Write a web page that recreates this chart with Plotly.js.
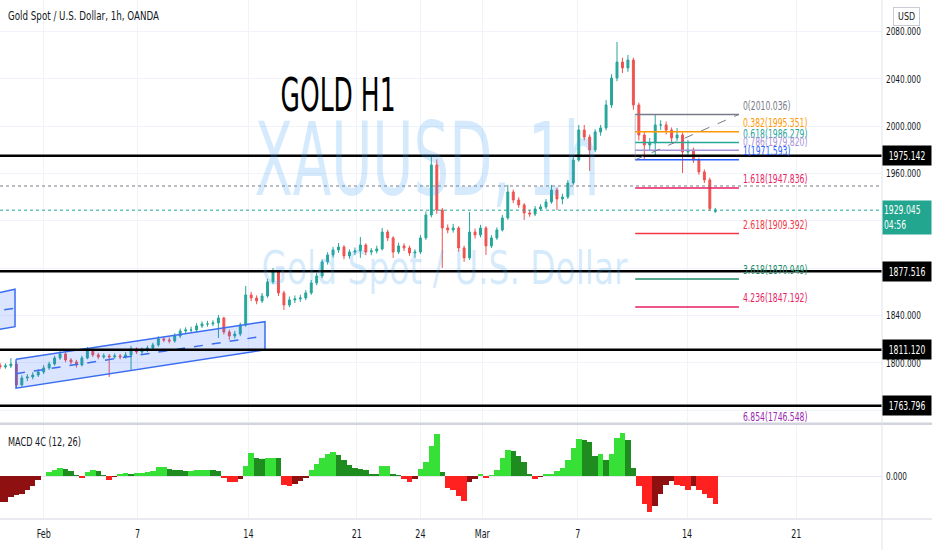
<!DOCTYPE html>
<html>
<head>
<meta charset="utf-8">
<script src="https://cdn.plot.ly/plotly-3.0.1.min.js"></script>
<style>
html,body{margin:0;padding:0;background:#fff;}
#chart{width:932px;height:550px;}
</style>
</head>
<body>
<div id="chart"></div>
<script>
// ---------- DATA ----------
const HOURS_PER_CANDLE = 6;
const openP = [1798.0,1796.5,1797.4,1799.0,1781.3,1787.2,1788.0,1789.7,1792.3,1795.7,
1799.0,1804.1,1807.5,1802.4,1800.7,1798.2,1804.1,1810.9,1806.7,1805.0,
1805.8,1805.0,1805.8,1805.0,1806.7,1811.7,1809.2,1810.9,1812.6,1815.1,
1820.2,1819.3,1818.5,1822.7,1826.9,1827.8,1827.8,1831.2,1832.9,1832.9,
1833.7,1837.9,1826.1,1822.7,1824.4,1832.0,1857.4,1854.8,1852.3,1856.5,
1868.4,1876.8,1859.1,1848.9,1853.2,1854.0,1854.8,1859.1,1867.5,1873.4,
1885.3,1891.2,1895.4,1897.9,1890.4,1893.7,1894.6,1899.6,1893.7,1894.6,
1896.3,1910.6,1905.6,1893.7,1898.8,1897.1,1892.9,1893.7,1905.6,1925.0,
1967.3,1929.2,1914.0,1912.3,1914.0,1897.1,1888.7,1910.6,1908.1,1914.0,
1898.8,1905.6,1912.3,1922.5,1944.4,1937.7,1933.5,1926.7,1925.8,1930.1,
1931.8,1936.0,1946.1,1938.5,1940.2,1952.0,1971.5,1996.8,1990.9,1980.0,
1995.2,1998.6,2018.0,2040.8,2054.3,2049.3,2056.0,2018.0,1992.6,1984.2,
1985.9,2001.1,2001.1,1996.8,1990.1,1992.6,1978.2,1980.0,1971.5,1961.4,
1954.6,1928.0];
const highP = [1800.0,1799.5,1804.0,1800.5,1789.5,1790.5,1792.0,1794.5,1798.0,1801.0,
1806.0,1810.0,1809.0,1804.0,1802.5,1806.0,1813.4,1812.0,1808.5,1808.0,
1807.5,1808.0,1807.5,1809.0,1814.3,1813.0,1813.0,1814.5,1817.0,1822.5,
1822.0,1821.5,1825.0,1829.0,1830.0,1830.5,1833.5,1835.0,1835.5,1836.0,
1840.5,1839.0,1828.0,1827.0,1834.0,1865.0,1860.0,1857.0,1859.0,1871.0,
1880.2,1878.5,1861.0,1856.0,1857.0,1857.5,1861.5,1870.0,1876.0,1887.5,
1893.5,1898.0,1901.3,1899.5,1896.0,1897.5,1906.4,1901.0,1897.0,1899.0,
1914.0,1912.5,1907.0,1901.5,1901.0,1899.0,1896.0,1908.0,1928.0,1975.5,
1972.0,1931.0,1917.0,1917.5,1915.5,1899.0,1927.5,1913.5,1916.6,1915.5,
1908.0,1914.5,1925.0,1950.4,1946.5,1940.0,1935.0,1929.0,1932.5,1934.0,
1938.5,1950.4,1948.0,1943.0,1954.5,1974.0,2001.1,2001.1,1993.0,1997.5,
2001.1,2022.2,2044.0,2071.3,2058.0,2060.3,2058.0,2020.0,1995.0,1990.0,
2010.0,2005.0,2004.0,1999.0,1998.5,1994.5,1988.4,1982.0,1973.5,1963.5,
1956.5,1931.0];
const lowP = [1794.5,1795.0,1795.5,1778.8,1780.0,1784.5,1786.0,1788.0,1790.5,1794.0,
1797.5,1802.5,1800.5,1798.5,1796.0,1797.0,1803.0,1805.0,1803.0,1803.5,
1788.0,1803.5,1803.0,1803.5,1794.0,1807.5,1807.5,1809.0,1811.0,1813.5,
1817.5,1816.5,1817.0,1821.0,1825.0,1825.5,1826.0,1829.5,1830.5,1831.0,
1821.0,1824.0,1819.5,1820.5,1822.5,1830.5,1852.0,1849.5,1850.5,1855.0,
1866.5,1856.5,1844.7,1847.0,1850.5,1851.5,1853.0,1857.5,1865.5,1871.5,
1883.0,1889.0,1893.0,1887.5,1888.0,1891.0,1888.7,1891.0,1891.0,1892.5,
1895.0,1903.0,1888.7,1892.0,1894.5,1890.5,1888.7,1892.0,1904.0,1923.0,
1926.0,1880.2,1909.5,1910.0,1894.0,1885.3,1887.0,1905.0,1906.0,1891.2,
1897.0,1904.0,1911.0,1921.0,1935.0,1931.0,1920.8,1923.5,1924.0,1928.5,
1930.0,1934.5,1929.2,1934.0,1938.5,1950.5,1970.0,1988.0,1962.2,1978.0,
1992.0,1996.5,2015.5,2038.0,2045.0,2046.0,2014.0,1988.0,1971.6,1979.0,
1975.7,1997.0,1993.0,1986.5,1987.5,1960.5,1975.0,1969.0,1959.0,1952.0,
1928.5,1926.7];
const closeP = [1796.5,1797.4,1799.0,1781.3,1787.2,1788.0,1789.7,1792.3,1795.7,1799.0,
1804.1,1807.5,1802.4,1800.7,1798.2,1804.1,1810.9,1806.7,1805.0,1805.8,
1805.0,1805.8,1805.0,1806.7,1811.7,1809.2,1810.9,1812.6,1815.1,1820.2,
1819.3,1818.5,1822.7,1826.9,1827.8,1827.8,1831.2,1832.9,1832.9,1833.7,
1837.9,1826.1,1822.7,1824.4,1832.0,1857.4,1854.8,1852.3,1856.5,1868.4,
1876.8,1859.1,1848.9,1853.2,1854.0,1854.8,1859.1,1867.5,1873.4,1885.3,
1891.2,1895.4,1897.9,1890.4,1893.7,1894.6,1899.6,1893.7,1894.6,1896.3,
1910.6,1905.6,1893.7,1898.8,1897.1,1892.9,1893.7,1905.6,1925.0,1967.3,
1929.2,1914.0,1912.3,1914.0,1897.1,1888.7,1910.6,1908.1,1914.0,1898.8,
1905.6,1912.3,1922.5,1944.4,1937.7,1933.5,1926.7,1925.8,1930.1,1931.8,
1936.0,1946.1,1938.5,1940.2,1952.0,1971.5,1996.8,1990.9,1980.0,1995.2,
1998.6,2018.0,2040.8,2054.3,2049.3,2056.0,2018.0,1992.6,1984.2,1985.9,
2001.1,2001.1,1996.8,1990.1,1992.6,1978.2,1980.0,1971.5,1961.4,1954.6,
1930.5,1929.05];
const macdHist = [-6.4,-6.4,-5.3,-4.75,-4.5,-3.5,-2.4,-1.0,0.1,1.0,
1.5,2.0,1.8,1.2,0.3,-0.5,1.0,1.5,1.2,0.2,
-0.9,-0.3,0.4,0.7,0.6,0.7,0.8,1.0,1.2,2.2,
2.3,1.8,1.5,1.4,1.2,1.3,1.5,1.5,1.6,1.4,
1.2,-0.5,-1.4,-1.6,-0.8,2.5,5.7,4.6,4.2,4.4,
4.6,4.5,-2.2,-2.4,-2.0,-1.3,-0.4,1.5,3.0,4.5,
5.6,5.9,5.3,4.0,2.8,2.0,1.8,1.6,0.6,0.4,
2.5,2.6,0.6,0.3,-0.8,-1.4,-0.7,1.8,3.5,7.5,
10.5,1.0,-3.1,-3.5,-5.0,-6.2,-1.5,-0.7,0.5,-0.4,
0.3,1.5,4.5,6.5,6.3,5.0,3.5,0.5,-0.8,-0.3,
0.4,0.6,1.2,1.9,4.0,7.0,9.3,9.0,8.5,5.0,
5.5,4.0,5.4,9.5,10.8,9.0,2.0,-2.5,-7.0,-8.9,
-7.5,-4.5,-2.2,-1.2,-2.3,-2.6,-3.5,-2.6,-3.6,-4.6,
-5.5,-7.0];

const tickHours = [48, 151, 273, 392, 462, 530, 635, 755, 875];
const tickLabels = ['Feb','7','14','21','24','Mar','7','14','21'];
const priceTicks = [1760,1800,1840,1880,1920,1960,2000,2040,2080];

const levelLines = [1975.142, 1877.516, 1811.120, 1763.796];
const lastPrice = 1929.045;
const countdown = '04:56';
const prevCloseLine = 1949.5;

const fibRatios = ['0','0.382','0.618','0.786','1','1.618','2.618','3.618','4.236','6.854'];
const fibPrices = [2010.036,1995.351,1986.279,1979.820,1971.593,1947.836,1909.392,1870.949,1847.192,1746.548];
const fibColors = ['#787b86','#ff9800','#26a69a','#a792d8','#2962ff','#e91e63','#f23645','#1e8c6a','#e91e63','#9c27b0'];
const fibHours = [698, 812];

const channelHours = [17.6, 291.2];
const channelTop = [1803.0, 1834.8];
const channelBottom = [1778.5, 1810.9];
const channelMid = [1790.8, 1822.7];
const channel2Hours = [-15, 16.5];
const channel2Top = [1857.0, 1862.2];
const channel2Bottom = [1826.5, 1830.6];
const channel2Mid = [1843.0, 1846.1];

// ---------- BUILD ----------
const FONT = "'DejaVu Sans Condensed', 'Liberation Sans Narrow', 'Arial Narrow', sans-serif";
const SQUEEZE = 0.74;
const xs = closeP.map((_, i) => i * HOURS_PER_CANDLE);

const mColors = macdHist.map((v, i) => {
  const p = i > 0 ? macdHist[i-1] : v;
  if (v >= 0) return v >= p ? '#36e036' : '#1f8c1f';
  return v < p ? '#ff2020' : '#8e1010';
});

function channelTrace(hx, top, bot) {
  return {
    type:'scatter', mode:'lines', xaxis:'x', yaxis:'y',
    x:[hx[0], hx[1], hx[1], hx[0], hx[0]],
    y:[top[0], top[1], bot[1], bot[0], top[0]],
    fill:'toself', fillcolor:'rgba(41,98,255,0.17)',
    line:{color:'#3a6df0', width:1.5}, hoverinfo:'skip'
  };
}
function midTrace(hx, mid) {
  return {type:'scatter', mode:'lines', xaxis:'x', yaxis:'y', x:hx, y:mid,
    line:{color:'#3a6df0', width:1.5, dash:'dash'}, hoverinfo:'skip'};
}

const traces = [
  channelTrace(channelHours, channelTop, channelBottom),
  midTrace(channelHours, channelMid),
  channelTrace(channel2Hours, channel2Top, channel2Bottom),
  midTrace(channel2Hours, channel2Mid),
  {
    type:'candlestick', xaxis:'x', yaxis:'y', x:xs,
    open:openP, high:highP, low:lowP, close:closeP,
    increasing:{line:{color:'#26a69a', width:1}, fillcolor:'#26a69a'},
    decreasing:{line:{color:'#ef5350', width:1}, fillcolor:'#ef5350'},
    whiskerwidth:0, hoverinfo:'skip'
  },
  {
    type:'bar', xaxis:'x', yaxis:'y2', x:xs, y:macdHist,
    width:HOURS_PER_CANDLE, marker:{color:mColors, line:{width:0}}, hoverinfo:'skip'
  }
];

const shapes = [];
levelLines.forEach(v => shapes.push({type:'line', xref:'paper', x0:0, x1:1, yref:'y', y0:v, y1:v,
  line:{color:'#000', width:2.5}, layer:'above'}));
shapes.push({type:'line', xref:'paper', x0:0, x1:1, yref:'y', y0:prevCloseLine, y1:prevCloseLine,
  line:{color:'#787b86', width:1, dash:'dot'}, layer:'above'});
shapes.push({type:'line', xref:'paper', x0:0, x1:1, yref:'y', y0:lastPrice, y1:lastPrice,
  line:{color:'#26a69a', width:1, dash:'dot'}, layer:'above'});
fibPrices.forEach((p, i) => shapes.push({type:'line', xref:'x', x0:fibHours[0], x1:fibHours[1], yref:'y', y0:p, y1:p,
  line:{color:fibColors[i], width:1.5}, layer:'above'}));
shapes.push({type:'line', xref:'x', x0:fibHours[0], x1:fibHours[0], yref:'y', y0:fibPrices[4], y1:fibPrices[0],
  line:{color:'rgba(120,123,134,0.45)', width:1}, layer:'above'});
shapes.push({type:'line', xref:'x', x0:fibHours[0], x1:fibHours[1], yref:'y', y0:fibPrices[4], y1:fibPrices[0],
  line:{color:'#787b86', width:1, dash:'dash'}, layer:'above'});
shapes.push({type:'line', xref:'paper', x0:0, x1:1.06, yref:'paper', y0:0.1835, y1:0.1835,
  line:{color:'#d1d4dc', width:2.5}, layer:'above'});
shapes.push({type:'line', xref:'paper', x0:0, x1:1.06, yref:'paper', y0:0, y1:0,
  line:{color:'#e0e3eb', width:1.5}, layer:'above'});
shapes.push({type:'line', xref:'paper', x0:1, x1:1, yref:'paper', y0:-0.07, y1:1,
  line:{color:'#e0e3eb', width:1}, layer:'above'});

const annotations = [];
const squeeze = {};
function addAnn(a, w) { if (w) squeeze[annotations.length] = w; annotations.push(a); }

addAnn({xref:'paper', yref:'paper', x:0.484, y:0.692, text:'XAUUSD, 1h', showarrow:false,
  font:{family:FONT, size:102, color:'rgba(66,160,240,0.22)'}, xanchor:'center', yanchor:'middle'}, 345);
addAnn({xref:'paper', yref:'paper', x:0.5045, y:0.4836, text:'Gold Spot / U.S. Dollar', showarrow:false,
  font:{family:FONT, size:46, color:'rgba(66,160,240,0.22)'}, xanchor:'center', yanchor:'middle'}, 366);
addAnn({xref:'paper', yref:'paper', x:0.0068, y:0.969, text:'Gold Spot / U.S. Dollar, 1h, OANDA', showarrow:false,
  font:{family:FONT, size:12, color:'#131722'}, xanchor:'left', yanchor:'middle', align:'left'}, 151);
addAnn({xref:'paper', yref:'paper', x:0.383, y:0.817, text:'GOLD H1', showarrow:false,
  font:{family:FONT, size:46, color:'#000'}, xanchor:'center', yanchor:'middle'}, 115);
addAnn({xref:'paper', yref:'paper', x:0.0068, y:0.148, text:'MACD 4C (12, 26)', showarrow:false,
  font:{family:FONT, size:12, color:'#131722'}, xanchor:'left', yanchor:'middle', align:'left'}, 73);
addAnn({xref:'paper', yref:'paper', x:1.0278, y:0.968, text:'USD', showarrow:false,
  font:{family:FONT, size:10, color:'#131722'}, bgcolor:'#fff', bordercolor:'#c8cbd3', borderwidth:1, borderpad:3,
  xanchor:'center', yanchor:'middle'}, 17);
fibPrices.forEach((p, i) => {
  const inRange = p >= 1750.0;
  addAnn({xref:'x', yref: inRange ? 'y' : 'y domain', x:fibHours[1], y: inRange ? p : 0.012,
    xanchor:'left', yanchor:'middle', xshift:2, yshift: inRange ? 8.5 : 0, showarrow:false, align:'left',
    text:fibRatios[i] + '(' + p.toFixed(3) + ')',
    font:{family:FONT, size:11.5, color:fibColors[i]}});
});
levelLines.forEach(v => addAnn({xref:'paper', yref:'y', x:1, y:v, xanchor:'left', yanchor:'middle',
  showarrow:false, text:v.toFixed(3), bgcolor:'#000', width:46, height:17, borderpad:1, align:'center',
  font:{family:FONT, size:11.5, color:'#fff'}}));
addAnn({xref:'paper', yref:'y', x:1, y:lastPrice, xanchor:'left', yanchor:'top', yshift:10,
  showarrow:false, text:lastPrice.toFixed(3) + '<br>' + countdown, bgcolor:'#22a68f', width:46, height:31,
  borderpad:1, align:'left', font:{family:FONT, size:11.5, color:'#fff'}});

const layout = {
  width:932, height:550, margin:{l:0, r:50, t:0, b:31},
  paper_bgcolor:'#fff', plot_bgcolor:'#fff', showlegend:false,
  font:{family:FONT, size:12, color:'#131722'},
  bargap:0, boxgap:0.5,
  xaxis:{domain:[0,1], anchor:'y2', range:[0, 969.2], tickmode:'array', tickvals:tickHours, ticktext:tickLabels,
    showgrid:true, gridcolor:'#f0f3fa', gridwidth:1, zeroline:false, showline:false, ticks:'',
    ticklabelstandoff:6,
    tickfont:{family:FONT, size:12, color:'#131722'}, rangeslider:{visible:false}, fixedrange:true},
  yaxis:{domain:[0.187,1], anchor:'x', range:[1750.0, 2106.75], side:'right', tickmode:'array', tickvals:priceTicks,
    tickformat:'.3f', showgrid:true, gridcolor:'#f0f3fa', zeroline:false, ticks:'', showline:false,
    ticklabelstandoff:3,
    tickfont:{family:FONT, size:11, color:'#131722'}},
  yaxis2:{domain:[0,0.181], anchor:'x', range:[-10.75, 12.75], side:'right', tickmode:'array', tickvals:[0],
    ticktext:['0.000'], showgrid:true, gridcolor:'#e6e9ef', zeroline:false, ticks:'', showline:false,
    ticklabelstandoff:3,
    tickfont:{family:FONT, size:11, color:'#131722'}},
  shapes:shapes, annotations:annotations
};

function fit(el, w) {
  el.setAttribute('textLength', w);
  el.setAttribute('lengthAdjust', 'spacingAndGlyphs');
}

Plotly.newPlot('chart', traces, layout, {staticPlot:true, displayModeBar:false}).then(() => {
  const done = new Set();
  Object.keys(squeeze).forEach(k => {
    const t = document.querySelector('g.annotation[data-index="' + k + '"] text.annotation-text');
    if (t) { fit(t, squeeze[k]); done.add(t); }
  });
  document.querySelectorAll('#chart text').forEach(t => {
    if (done.has(t)) return;
    const lines = t.querySelectorAll('tspan.line');
    if (lines.length) {
      lines.forEach(s => { const w = s.getComputedTextLength(); if (w > 0) fit(s, w * SQUEEZE); });
    } else {
      const w = t.getComputedTextLength();
      if (w > 0) fit(t, w * SQUEEZE);
    }
  });
});
</script>
</body>
</html>
